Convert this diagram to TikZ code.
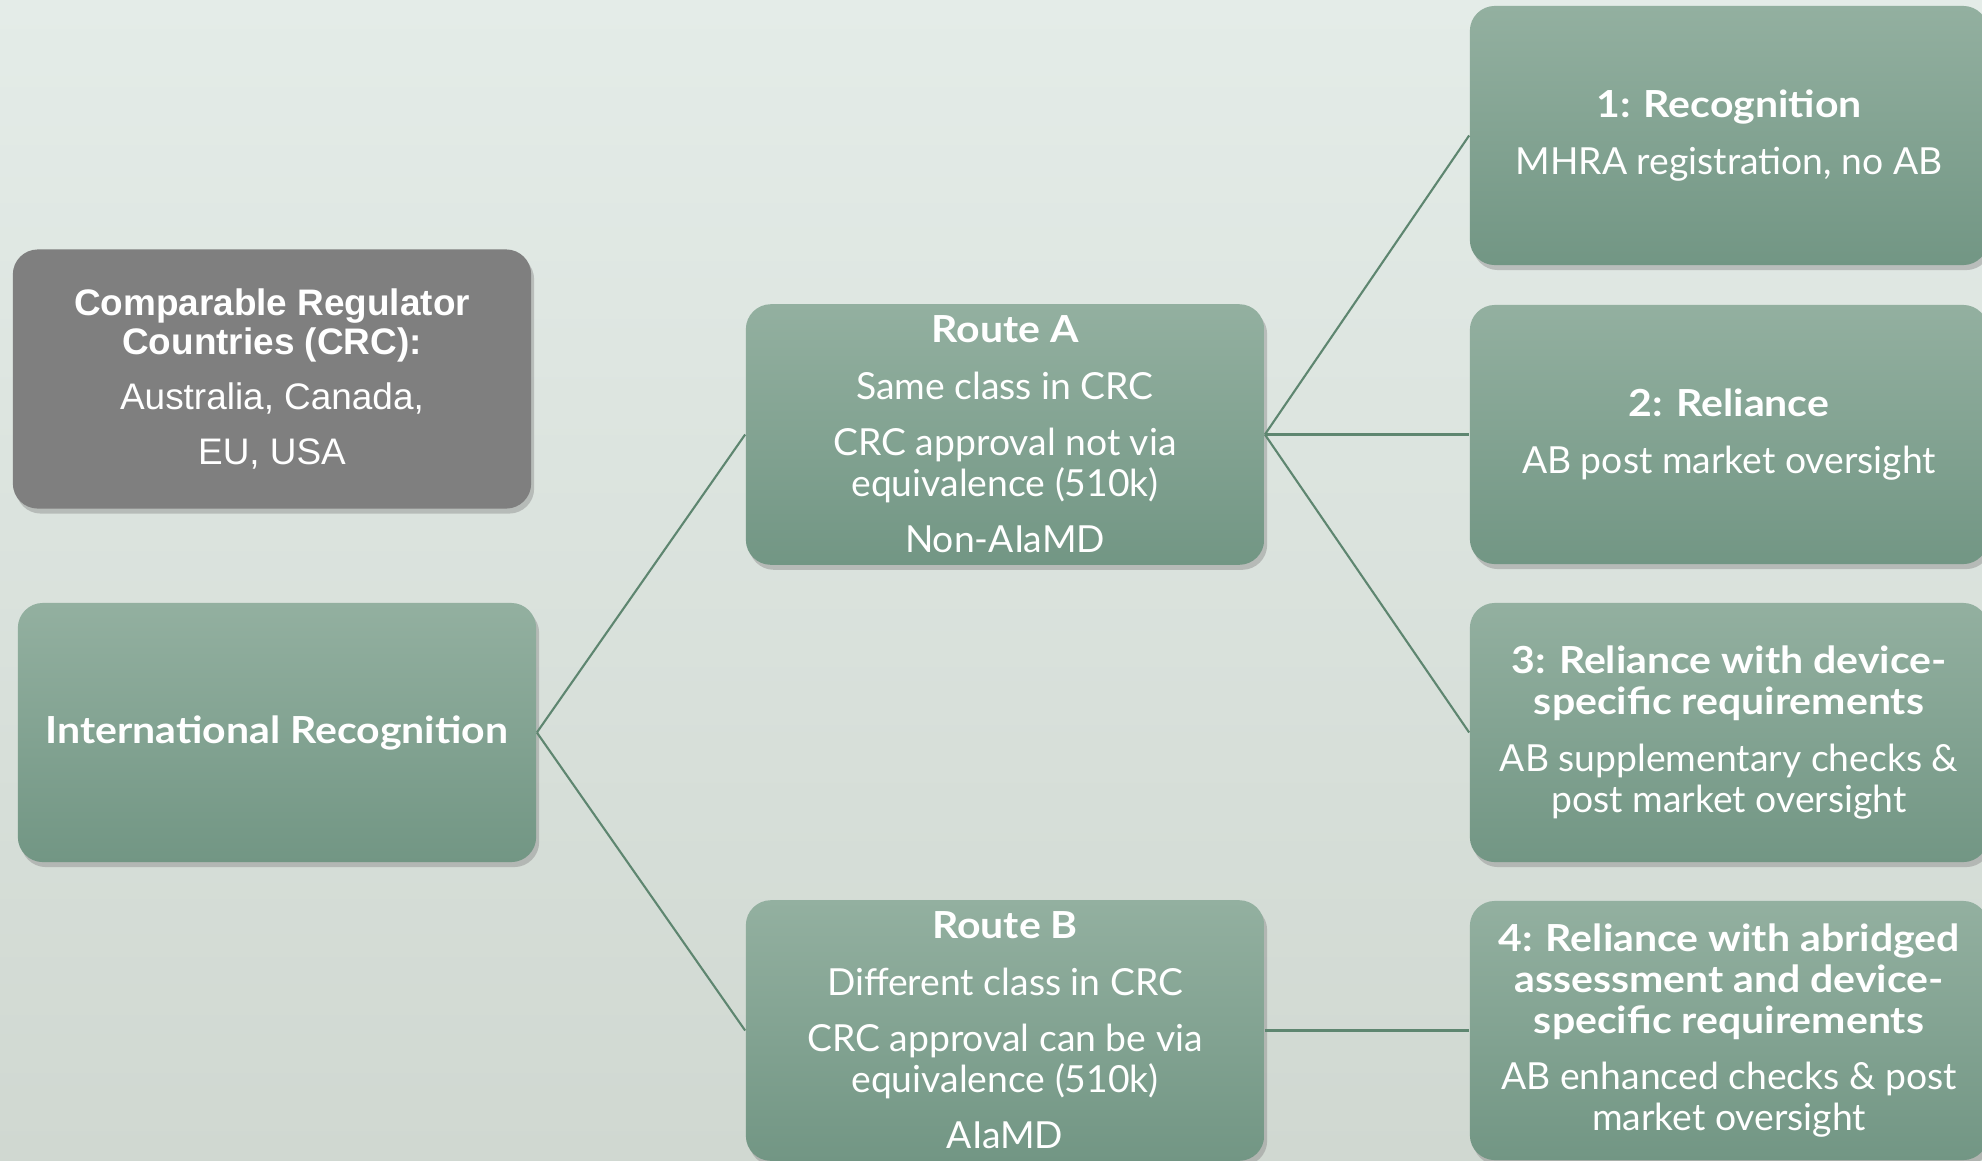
\documentclass[tikz,border=0pt]{standalone}
\usepackage{fontspec}
\setmainfont{Lato}[BoldFeatures={FakeStretch=1.1}]
\newfontfamily\crcfont{Liberation Sans}
\usetikzlibrary{shadows}
\definecolor{boxtop}{HTML}{93B0A0}
\definecolor{boxbot}{HTML}{729684}
\definecolor{crcgray}{HTML}{7F7F7F}
\definecolor{linkgreen}{HTML}{5E8670}
\definecolor{fogtop}{HTML}{E4ECE8}
\definecolor{fogbot}{HTML}{D0D8D1}
\newcommand{\pgap}{\\[4.3pt]}

\begin{document}
\begin{tikzpicture}[x=0.01cm, y=-0.01cm,
    box/.style={rounded corners=0.25cm, minimum width=5.18cm, minimum height=2.59cm, align=center, text=white,
        top color=boxtop, bottom color=boxbot,
        drop shadow={shadow xshift=0.03cm, shadow yshift=-0.05cm, opacity=0.4},
        font=\fontsize{10.6}{11.7}\selectfont},
    link/.style={linkgreen, line width=0.6pt}]
    \clip (0, 0) rectangle (1982, 1160);
    \fill [top color=fogtop, bottom color=fogbot] (0, 0) rectangle (1982, 1160);

    % left column
    \node [box, top color=crcgray, bottom color=crcgray, font=\crcfont\fontsize{10.5}{11.1}\selectfont] (crc) at (272, 379)
        {\bfseries Comparable Regulator\\ \bfseries Countries (CRC):\\[4.5pt] Australia, Canada,\\[4.5pt] EU, USA};
    \node [box] (intl) at (277, 732.5) {\bfseries International Recognition};

    % routes
    \node [box] (routeA) at (1005, 434.5)
        {\bfseries Route A\pgap Same class in CRC\pgap CRC approval not via\\ equivalence (510k)\pgap Non-AIaMD};
    \node [box] (routeB) at (1005, 1030.5)
        {\bfseries Route B\pgap Different class in CRC\pgap CRC approval can be via\\ equivalence (510k)\pgap AIaMD};

    % options
    \node [box] (opt1) at (1729, 135.5) {\bfseries 1: Recognition\pgap MHRA registration, no AB};
    \node [box] (opt2) at (1729, 434.5) {\bfseries 2: Reliance\pgap AB post market oversight};
    \node [box] (opt3) at (1729, 732.5)
        {\bfseries 3: Reliance with device-\\ \bfseries specific requirements\pgap AB supplementary checks \&\\ post market oversight};
    \node [box] (opt4) at (1729, 1030.5)
        {\bfseries 4: Reliance with abridged\\ \bfseries assessment and device-\\ \bfseries specific requirements\pgap AB enhanced checks \& post\\ market oversight};

    \draw [link] (intl.east) -- (routeA.west);
    \draw [link] (intl.east) -- (routeB.west);
    \draw [link] (routeA.east) -- (opt1.west);
    \draw [link] (routeA.east) -- (opt2.west);
    \draw [link] (routeA.east) -- (opt3.west);
    \draw [link] (routeB.east) -- (opt4.west);
\end{tikzpicture}
\end{document}
